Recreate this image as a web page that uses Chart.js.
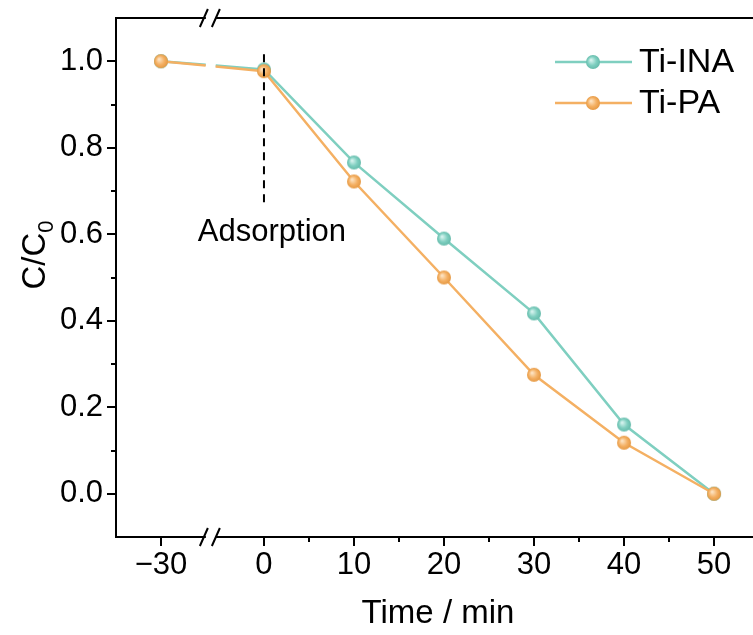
<!DOCTYPE html>
<html>
<head>
<meta charset="utf-8">
<script src="https://cdn.jsdelivr.net/npm/chart.js@4.4.1/dist/chart.umd.min.js"></script>
<style>
  html, body { margin: 0; padding: 0; background: #fff; overflow: hidden; }
  #wrap { width: 753px; height: 635px; }
</style>
</head>
<body>
<div id="wrap"><canvas id="myChart"></canvas></div>
<script>
// data
const times = [-30, 0, 10, 20, 30, 40, 50];
const tiINA = [1.0, 0.981, 0.766, 0.590, 0.417, 0.160, 0.0];
const tiPA = [1.0, 0.977, 0.722, 0.500, 0.275, 0.118, 0.0];
const xTickTimes = [-30, 0, 10, 20, 30, 40, 50];
const xTickLabels = ['\u221230', '0', '10', '20', '30', '40', '50'];
const xMinorTimes = [5, 15, 25, 35, 45];
const yTicks = [0, 0.2, 0.4, 0.6, 0.8, 1.0];
const yMinor = [0.1, 0.3, 0.5, 0.7, 0.9];

// broken axis: the part below zero is squeezed
const SQUEEZE = 0.3815;
const BREAK_AT = -5.9;
const axisPos = t => (t < 0 ? t * SQUEEZE : t);

const FONT = '"Liberation Sans", Arial, sans-serif';
const TEAL = '#7fcfc0';
const ORANGE = '#f4b063';

function ball(base, light, dark) {
    const c = document.createElement('canvas');
    c.width = 16; c.height = 16;
    const g = c.getContext('2d');
    const grad = g.createRadialGradient(6, 6, 0.5, 8, 8, 7.5);
    grad.addColorStop(0, light);
    grad.addColorStop(0.55, base);
    grad.addColorStop(1, dark);
    g.fillStyle = grad;
    g.beginPath(); g.arc(8, 8, 7, 0, Math.PI * 2); g.fill();
    return c;
}
const tealBall = ball(TEAL, '#d6f3ee', '#62b8a8');
const orangeBall = ball(ORANGE, '#fde3c2', '#e3953e');

const gapDash = ctx => {
    if (ctx.p0DataIndex !== 0) return undefined;
    const bx = ctx.chart.scales.x.getPixelForValue(BREAK_AT);
    return [bx - 5 - ctx.p0.x, 10, 2000, 0];
};

const noPad = s => { s.paddingTop = 0; s.paddingBottom = 0; s.paddingLeft = 0; s.paddingRight = 0; };

const extras = {
    id: 'extras',
    afterDraw(chart) {
        const { ctx, chartArea: a, scales: { x, y } } = chart;
        ctx.save();
        ctx.strokeStyle = '#000';
        ctx.lineWidth = 2;
        // top frame line, and both frame lines run on to the page edge
        ctx.beginPath();
        ctx.moveTo(a.left - 1, a.top); ctx.lineTo(chart.width, a.top);
        ctx.moveTo(a.right - 1, a.bottom); ctx.lineTo(chart.width, a.bottom);
        ctx.stroke();
        // tick marks
        ctx.beginPath();
        xTickTimes.forEach(t => { const px = Math.round(x.getPixelForValue(axisPos(t))); ctx.moveTo(px, a.bottom); ctx.lineTo(px, a.bottom + 9); });
        xMinorTimes.forEach(t => { const px = Math.round(x.getPixelForValue(t)); ctx.moveTo(px, a.bottom); ctx.lineTo(px, a.bottom + 5); });
        yTicks.forEach(v => { const py = Math.round(y.getPixelForValue(v)); ctx.moveTo(a.left, py); ctx.lineTo(a.left - 9, py); });
        yMinor.forEach(v => { const py = Math.round(y.getPixelForValue(v)); ctx.moveTo(a.left, py); ctx.lineTo(a.left - 5, py); });
        ctx.stroke();
        // axis breaks, top and bottom
        const bx = x.getPixelForValue(BREAK_AT);
        [a.top, a.bottom].forEach(ly => {
            ctx.fillStyle = '#fff';
            ctx.fillRect(bx - 5, ly - 3, 10, 6);
            ctx.beginPath();
            ctx.moveTo(bx - 11, ly + 9); ctx.lineTo(bx - 3, ly - 9);
            ctx.moveTo(bx + 1, ly + 9); ctx.lineTo(bx + 9, ly - 9);
            ctx.stroke();
        });
        // adsorption marker
        const zx = x.getPixelForValue(0);
        ctx.setLineDash([8, 6]);
        ctx.beginPath(); ctx.moveTo(zx, y.getPixelForValue(1.016)); ctx.lineTo(zx, y.getPixelForValue(0.66)); ctx.stroke();
        ctx.setLineDash([]);
        ctx.fillStyle = '#000';
        ctx.textAlign = 'center'; ctx.textBaseline = 'middle';
        ctx.font = '31px ' + FONT;
        ctx.fillText('Adsorption', zx + 8, y.getPixelForValue(0.605));
        // axis titles
        ctx.font = '33px ' + FONT;
        ctx.fillText('Time / min', 438, 614);
        ctx.save();
        ctx.translate(36, 255);
        ctx.rotate(-Math.PI / 2);
        ctx.textAlign = 'left';
        const w1 = ctx.measureText('C/C').width;
        ctx.font = '22px ' + FONT;
        const w2 = ctx.measureText('0').width;
        ctx.font = '33px ' + FONT;
        ctx.fillText('C/C', -(w1 + w2) / 2, 0);
        ctx.font = '22px ' + FONT;
        ctx.fillText('0', -(w1 + w2) / 2 + w1, 11);
        ctx.restore();
        // legend
        const items = [['Ti-INA', TEAL, tealBall, 62], ['Ti-PA', ORANGE, orangeBall, 103]];
        items.forEach(([label, col, img, ly]) => {
            ctx.strokeStyle = col; ctx.lineWidth = 2.5;
            ctx.beginPath(); ctx.moveTo(555, ly); ctx.lineTo(632, ly); ctx.stroke();
            ctx.drawImage(img, 593 - 8, ly - 8);
            ctx.fillStyle = '#000';
            ctx.textAlign = 'left';
            ctx.font = '34px ' + FONT;
            ctx.fillText(label, 639, ly + 1);
        });
        ctx.restore();
    }
};

new Chart(document.getElementById('myChart'), {
    type: 'line',
    data: {
        datasets: [{
            label: 'Ti-INA',
            data: times.map((t, i) => ({ x: axisPos(t), y: tiINA[i] })),
            borderColor: TEAL,
            borderWidth: 2.5,
            pointStyle: tealBall,
            order: 2,
            segment: { borderDash: gapDash }
        }, {
            label: 'Ti-PA',
            data: times.map((t, i) => ({ x: axisPos(t), y: tiPA[i] })),
            borderColor: ORANGE,
            borderWidth: 2.5,
            pointStyle: orangeBall,
            order: 1,
            segment: { borderDash: gapDash }
        }]
    },
    options: {
        animation: false,
        responsive: true,
        maintainAspectRatio: false,
        layout: { padding: { top: 18, right: 0, left: 0, bottom: 0 } },
        plugins: { legend: { display: false }, tooltip: { enabled: false } },
        scales: {
            x: {
                type: 'linear',
                min: -16.44,
                max: 53.61,
                afterFit: s => { s.height = 98; noPad(s); },
                afterBuildTicks: s => { s.ticks = xTickTimes.map(t => ({ value: axisPos(t) })); },
                grid: { display: false, drawTicks: false },
                border: { color: '#000', width: 2 },
                ticks: {
                    padding: 10,
                    color: '#000',
                    font: { family: FONT, size: 31 },
                    maxRotation: 0,
                    autoSkip: false,
                    callback: (v, i) => xTickLabels[i]
                }
            },
            y: {
                min: -0.1,
                max: 1.1,
                afterFit: s => { s.width = 116; noPad(s); },
                afterBuildTicks: s => { s.ticks = yTicks.map(v => ({ value: v })); },
                grid: { display: false, drawTicks: false },
                border: { color: '#000', width: 2 },
                ticks: {
                    padding: 13,
                    color: '#000',
                    font: { family: FONT, size: 31 },
                    callback: v => v.toFixed(1)
                }
            }
        }
    },
    plugins: [extras]
});
</script>
</body>
</html>
